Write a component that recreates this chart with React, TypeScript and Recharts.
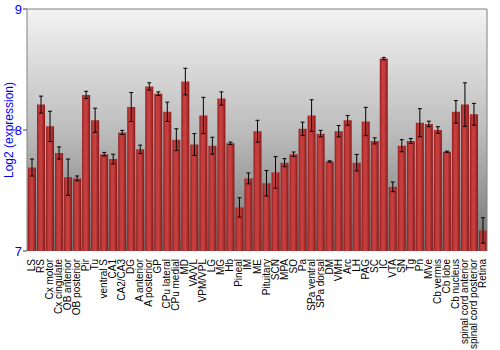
import React from 'react';
import { ComposedChart, Bar, XAxis, YAxis, CartesianGrid, ErrorBar, ReferenceLine } from 'recharts';

const categories = ['LS','RS','Cx motor','Cx cingulate','OB anterior','OB posterior','Pir','Tu','ventral S','CA1','CA2/CA3','DG','A anterior','A posterior','GP','CPu lateral','CPu medial','MD','VA/VL','VPM/VPL','LG','MG','Hb','Pineal','IM','ME','Pituitary','SCN','MPA','SO','Pa','SPa ventral','SPa dorsal','DM','VMH','Arc','LH','PAG','SC','IC','VTA','SN','Tg','Pn','MVe','Cb vermis','Cb lobe','Cb nucleus','spinal cord anterior','spinal cord posterior','Retina'];

const values = [7.69,8.21,8.03,7.81,7.61,7.60,8.29,8.08,7.80,7.76,7.98,8.19,7.84,8.36,8.30,8.15,7.92,8.40,7.88,8.12,7.87,8.26,7.89,7.36,7.60,7.99,7.56,7.65,7.73,7.80,8.01,8.12,7.97,7.74,7.99,8.08,7.73,8.07,7.91,8.59,7.53,7.87,7.91,8.06,8.05,8.00,7.82,8.15,8.21,8.13,7.17];

const errors = [0.07,0.07,0.125,0.05,0.15,0.02,0.03,0.10,0.015,0.04,0.017,0.12,0.035,0.03,0.015,0.08,0.09,0.11,0.09,0.15,0.07,0.055,0.01,0.08,0.045,0.09,0.105,0.13,0.033,0.018,0.055,0.13,0.027,0.005,0.047,0.04,0.068,0.117,0.025,0.01,0.04,0.05,0.02,0.116,0.023,0.027,0.005,0.093,0.18,0.09,0.105];

const yTicks = [7, 8, 9];

const data = categories.map((c, i) => ({ name: c, value: values[i], err: errors[i] }));

const FONT = '"Liberation Sans", Arial, sans-serif';

const XTick = (props: any) => {
  const { x, y, payload } = props;
  return (
    <text
      x={x}
      y={y}
      transform={`rotate(-90, ${x}, ${y})`}
      textAnchor="end"
      dy="0.35em"
      fontSize={10}
      fontFamily={FONT}
      fill="#000"
    >
      {payload.value}
    </text>
  );
};

export default function App() {
  return (
    <div style={{ position: 'absolute', left: 0, top: 0, width: 500, height: 350, background: '#fff' }}>
      <ComposedChart
        width={500}
        height={350}
        data={data}
        margin={{ top: 9, right: 0, left: 0, bottom: 0 }}
        barCategoryGap={1}
      >
        <defs>
          <linearGradient id="bgGrad" x1="0" y1="0" x2="0" y2="1">
            <stop offset="0%" stopColor="#f3f3f3" />
            <stop offset="50%" stopColor="#bdbdbd" />
            <stop offset="100%" stopColor="#737373" />
          </linearGradient>
          <linearGradient id="barGrad" x1="0" y1="0" x2="1" y2="0">
            <stop offset="0%" stopColor="#8e1c1c" />
            <stop offset="25%" stopColor="#c23a3a" />
            <stop offset="55%" stopColor="#c84040" />
            <stop offset="100%" stopColor="#861818" />
          </linearGradient>
        </defs>
        <CartesianGrid vertical={false} stroke="#ffffff" fill="url(#bgGrad)" fillOpacity={1} horizontalValues={[8]} />
        <XAxis
          dataKey="name"
          interval={0}
          tick={<XTick />}
          tickLine={false}
          axisLine={false}
          height={99}
        />
        <YAxis
          yAxisId="left"
          domain={[7, 9]}
          ticks={yTicks}
          width={27}
          tickSize={4}
          tickLine={{ stroke: '#404040' }}
          axisLine={{ stroke: '#808080' }}
          tick={{ fill: '#0000ff', fontSize: 13, fontFamily: FONT }}
          tickMargin={1}
          label={{ value: 'Log2 (expression)', angle: -90, position: 'center', dx: -5, fill: '#0000ff', fontSize: 12, fontFamily: FONT }}
        />
        <YAxis
          yAxisId="right"
          orientation="right"
          domain={[7, 9]}
          ticks={yTicks}
          width={13}
          tickSize={3}
          tickLine={{ stroke: '#404040' }}
          axisLine={{ stroke: '#808080' }}
          tick={{ fill: '#0000ff', fontSize: 13, fontFamily: FONT }}
          tickMargin={1}
        />
        <ReferenceLine yAxisId="left" y={9} stroke="#808080" />
        <Bar yAxisId="left" dataKey="value" fill="url(#barGrad)" barSize={8} isAnimationActive={false}>
          <ErrorBar dataKey="err" stroke="#000" strokeWidth={1} width={2} isAnimationActive={false} />
        </Bar>
      </ComposedChart>
    </div>
  );
}
